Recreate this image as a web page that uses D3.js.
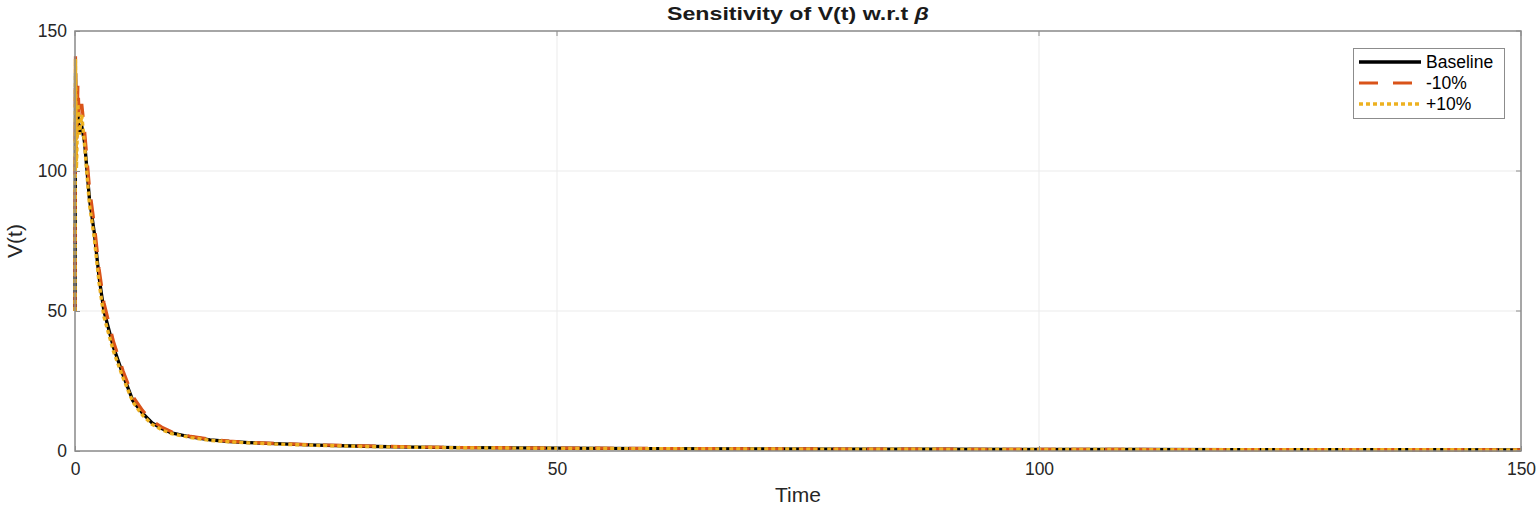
<!DOCTYPE html>
<html>
<head>
<meta charset="utf-8">
<script src="https://cdn.jsdelivr.net/npm/d3@7"></script>
<style>
  body { margin: 0; background: #fff; }
  svg { display: block; font-family: Arial, "Liberation Sans", sans-serif; }
</style>
</head>
<body>
<div id="chart"></div>
<script>
// data
var timePts = [0,0.05,0.15,0.3,0.45,0.7,1,1.5,2,2.5,3,4,5,6,7,8,9,10,12,14,16,18,20,25,30,35,40,50,60,70,80,90,100,110,120,130,140,150];
var baseline = [50,135,112,120,114,116,110,90,78,62,50,37,27,18,13.5,10,8,6.5,5,4,3.4,3,2.7,2.1,1.7,1.4,1.2,1.0,0.85,0.75,0.68,0.62,0.57,0.53,0.5,0.47,0.45,0.43];
var minus10 = [50,141,105,131,118,124,114,94,81,65,53,39,28.5,19.5,14.5,10.7,8.5,6.9,5.2,4.2,3.5,3.1,2.8,2.2,1.8,1.5,1.25,1.05,0.9,0.8,0.7,0.64,0.59,0.55,0.52,0.49,0.47,0.45];
var plus10 = [50,140,101,124,113,120,109,88,76,60,48,35.5,26,17.5,12.8,9.5,7.6,6.2,4.8,3.8,3.3,2.9,2.6,2.0,1.6,1.35,1.15,0.95,0.8,0.72,0.65,0.6,0.55,0.51,0.48,0.45,0.43,0.41];
var xTicks = [0,50,100,150];
var yTicks = [0,50,100,150];
var seriesNames = ['Baseline','-10%','+10%'];

var width = 1540, height = 507;
var mLeft = 75, mRight = 1521, mTop = 31, mBottom = 451;

var svg = d3.select('#chart').append('svg')
  .attr('width', width)
  .attr('height', height);

var x = d3.scaleLinear().domain([0,150]).range([mLeft,mRight]);
var y = d3.scaleLinear().domain([0,150]).range([mBottom,mTop]);

// grid
svg.selectAll('.gx').data(xTicks).enter().append('line')
  .attr('x1', d => x(d)).attr('x2', d => x(d))
  .attr('y1', mTop).attr('y2', mBottom)
  .attr('stroke', '#ebebeb').attr('stroke-width', 1);
svg.selectAll('.gy').data(yTicks).enter().append('line')
  .attr('y1', d => y(d)).attr('y2', d => y(d))
  .attr('x1', mLeft).attr('x2', mRight)
  .attr('stroke', '#ebebeb').attr('stroke-width', 1);

// lines
var styles = [
  {data: baseline, color: '#000000', w: 3.3, dash: null},
  {data: minus10, color: '#D95319', w: 3.2, dash: '19,15'},
  {data: plus10, color: '#EDB120', w: 3.4, dash: '4,3'}
];
var line = d3.line().x((d,i) => x(timePts[i])).y(d => y(d));
styles.forEach(function(s){
  svg.append('path')
    .attr('d', line(s.data))
    .attr('fill', 'none')
    .attr('stroke', s.color)
    .attr('stroke-width', s.w)
    .attr('stroke-dasharray', s.dash);
});

// axes box
var axisCol = '#8c8c8c';
svg.append('rect')
  .attr('x', mLeft).attr('y', mTop)
  .attr('width', mRight-mLeft).attr('height', mBottom-mTop)
  .attr('fill', 'none').attr('stroke', axisCol).attr('stroke-width', 1.5);

var xAxis = d3.axisBottom(x).tickValues(xTicks).tickSize(-5).tickPadding(12);
var yAxis = d3.axisLeft(y).tickValues(yTicks).tickSize(-5).tickPadding(12);
var gx = svg.append('g').attr('transform', 'translate(0,' + mBottom + ')').call(xAxis);
var gy = svg.append('g').attr('transform', 'translate(' + mLeft + ',0)').call(yAxis);
[gx, gy].forEach(function(g){
  g.select('.domain').remove();
  g.selectAll('line').attr('stroke', axisCol);
  g.selectAll('text').attr('fill', '#262626').style('font-size', '17.5px')
    .style('font-family', 'Arial, "Liberation Sans", sans-serif');
});
gy.selectAll('text').attr('dx', 4);
// top/right ticks
svg.selectAll('.tt').data(xTicks).enter().append('line')
  .attr('x1', d => x(d)).attr('x2', d => x(d))
  .attr('y1', mTop).attr('y2', mTop+5).attr('stroke', axisCol);
svg.selectAll('.rt').data(yTicks).enter().append('line')
  .attr('y1', d => y(d)).attr('y2', d => y(d))
  .attr('x1', mRight).attr('x2', mRight-5).attr('stroke', axisCol);

// labels
svg.append('text').attr('x', (mLeft+mRight)/2).attr('y', 502)
  .attr('text-anchor', 'middle').attr('fill', '#262626')
  .style('font-size', '21px').text('Time');
svg.append('text').attr('transform', 'translate(22,' + ((mTop+mBottom)/2) + ') rotate(-90)')
  .attr('text-anchor', 'middle').attr('fill', '#262626')
  .style('font-size', '21px').text('V(t)');
var title = svg.append('text').attr('x', (mLeft+mRight)/2).attr('y', 20)
  .attr('text-anchor', 'middle').attr('fill', '#1a1a1a')
  .attr('textLength', 262).attr('lengthAdjust', 'spacingAndGlyphs')
  .style('font-size', '19px').style('font-weight', 'bold');
title.append('tspan').text('Sensitivity of V(t) w.r.t ');
title.append('tspan').style('font-style', 'italic').text('β');

// legend
var lg = svg.append('g');
lg.append('rect').attr('x', 1353.5).attr('y', 48.5).attr('width', 151).attr('height', 70)
  .attr('fill', '#fff').attr('stroke', axisCol).attr('stroke-width', 1);
styles.forEach(function(s, i){
  var yy = 62 + i*21;
  lg.append('line').attr('x1', 1359).attr('x2', 1421).attr('y1', yy).attr('y2', yy)
    .attr('stroke', s.color).attr('stroke-width', s.w).attr('stroke-dasharray', s.dash);
  lg.append('text').attr('x', 1426).attr('y', yy + 6).attr('fill', '#000')
    .style('font-size', '17.5px').text(seriesNames[i]);
});
</script>
</body>
</html>
